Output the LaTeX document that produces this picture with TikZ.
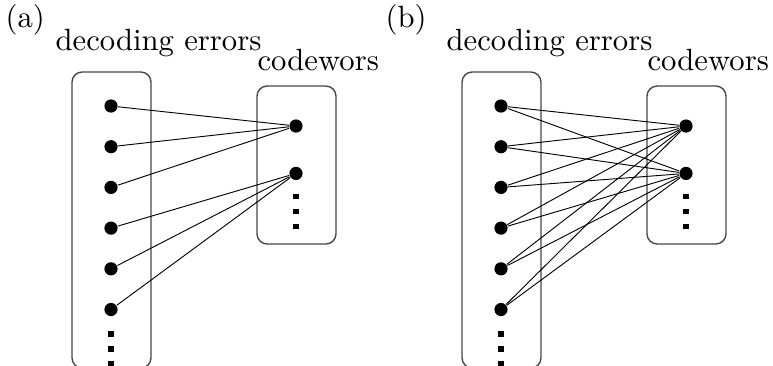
\documentclass[tikz,border=0pt]{standalone}
\usepackage{xcolor}
\usepackage{tikz}
\usetikzlibrary{positioning}
\tikzset{
    vertex/.style={circle, fill=black, inner sep=0pt, minimum size=4.3pt},
    more/.style={rectangle, fill=black, inner sep=0pt, minimum size=1.7pt},
    group/.style={rectangle, rounded corners=3.3pt, draw=boxline, line width=0.45pt, minimum width=25.75pt},
    link/.style={line width=0.3pt, color=black},
    caption/.style={anchor=base west, inner sep=0pt, font=\normalsize}
}
\definecolor{boxline}{RGB}{70,70,70}

\begin{document}
\begin{tikzpicture}[x=0.326pt, y=-0.326pt, node distance=8.57pt]
    \useasboundingbox (0,0) rectangle (773,365);

    % Part (a) - boxes and titles
    \node (aleft) [group, minimum height=96.5pt] at (111.5,220) {};
    \node (aright) [group, minimum height=51.5pt] at (296.5,165) {};
    \node (alabel) [caption] at (5,27) {(a)};
    \node (aerrors) [caption] at (55,50) {decoding errors};
    \node (acodes) [caption] at (257,70) {codewors};

    % Part (a) - decoding errors
    \node (a1) [vertex] at (111,106) {};
    \node (a2) [vertex, below=of a1] {};
    \node (a3) [vertex, below=of a2] {};
    \node (a4) [vertex, below=of a3] {};
    \node (a5) [vertex, below=of a4] {};
    \node (a6) [vertex, below=of a5] {};
    \node (amore1) [more, below=4.56pt of a6] {};
    \node (amore2) [more, below=2.77pt of amore1] {};
    \node (amore3) [more, below=2.77pt of amore2] {};

    % Part (a) - codewords
    \node (ac1) [vertex] at (296,126) {};
    \node (ac2) [vertex, below=10.76pt of ac1] {};
    \node (acmore1) [more, below=4.23pt of ac2] {};
    \node (acmore2) [more, below=2.77pt of acmore1] {};
    \node (acmore3) [more, below=2.77pt of acmore2] {};

    % Part (a) - links
    \draw [link] (a1) -- (ac1);
    \draw [link] (a2) -- (ac1);
    \draw [link] (a3) -- (ac1);
    \draw [link] (a4) -- (ac2);
    \draw [link] (a5) -- (ac2);
    \draw [link] (a6) -- (ac2);

    % Part (b) - boxes and titles
    \node (bleft) [group, minimum height=96.5pt] at (501.5,220) {};
    \node (bright) [group, minimum height=51.5pt] at (686.5,165) {};
    \node (blabel) [caption] at (385,27) {(b)};
    \node (berrors) [caption] at (446,50) {decoding errors};
    \node (bcodes) [caption] at (647,70) {codewors};

    % Part (b) - decoding errors
    \node (b1) [vertex] at (501,106) {};
    \node (b2) [vertex, below=of b1] {};
    \node (b3) [vertex, below=of b2] {};
    \node (b4) [vertex, below=of b3] {};
    \node (b5) [vertex, below=of b4] {};
    \node (b6) [vertex, below=of b5] {};
    \node (bmore1) [more, below=4.56pt of b6] {};
    \node (bmore2) [more, below=2.77pt of bmore1] {};
    \node (bmore3) [more, below=2.77pt of bmore2] {};

    % Part (b) - codewords
    \node (bc1) [vertex] at (686,126) {};
    \node (bc2) [vertex, below=10.76pt of bc1] {};
    \node (bcmore1) [more, below=4.23pt of bc2] {};
    \node (bcmore2) [more, below=2.77pt of bcmore1] {};
    \node (bcmore3) [more, below=2.77pt of bcmore2] {};

    % Part (b) - links
    \draw [link] (b1) -- (bc1);
    \draw [link] (b1) -- (bc2);
    \draw [link] (b2) -- (bc1);
    \draw [link] (b2) -- (bc2);
    \draw [link] (b3) -- (bc1);
    \draw [link] (b3) -- (bc2);
    \draw [link] (b4) -- (bc1);
    \draw [link] (b4) -- (bc2);
    \draw [link] (b5) -- (bc1);
    \draw [link] (b5) -- (bc2);
    \draw [link] (b6) -- (bc1);
    \draw [link] (b6) -- (bc2);
\end{tikzpicture}
\end{document}
